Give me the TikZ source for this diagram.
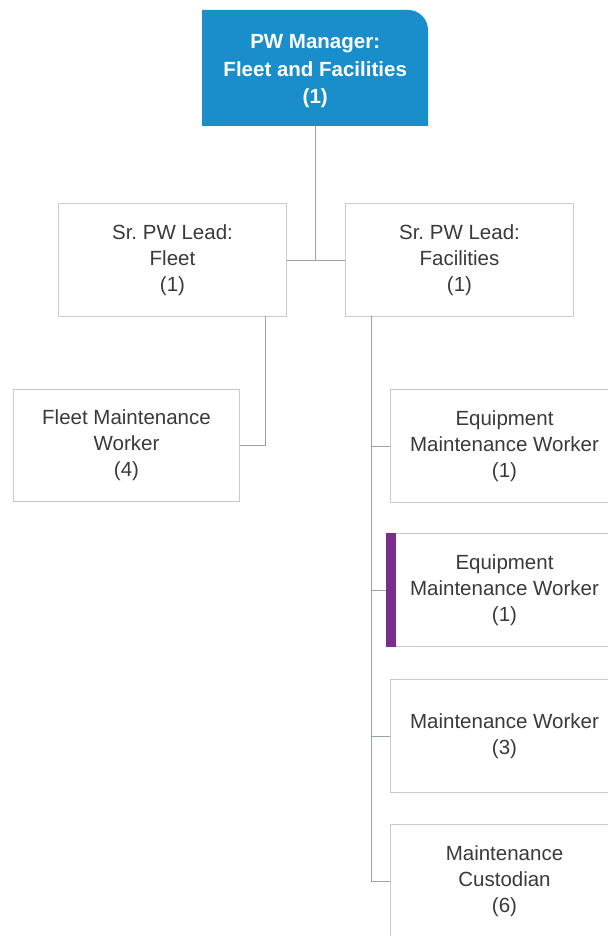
\documentclass[tikz,border=0pt]{standalone}
\usepackage{fontspec}
\setmainfont{Liberation Sans}
\definecolor{mgrblue}{HTML}{1A8ECB}
\definecolor{boxline}{HTML}{C5CBD0}
\definecolor{connline}{HTML}{9AA3AB}
\definecolor{txt}{HTML}{3A3A3A}
\definecolor{vacbar}{HTML}{7B2D8E}
\begin{document}
\frenchspacing
\begin{tikzpicture}[x=1pt,y=-1pt,
  box/.style={draw=boxline, line width=1pt, fill=white, minimum width=228pt,
    minimum height=113pt, anchor=north west, align=center, text=txt,
    font=\fontsize{20.5}{26}\selectfont, inner sep=0pt},
  mgrbox/.style={minimum width=226pt, minimum height=110pt, anchor=north west,
    align=center, text=white, font=\fontsize{20.5}{27.5}\selectfont\bfseries, inner sep=0pt},
  conn/.style={draw=connline, line width=1pt}]
\clip (0,0) rectangle (608,936);
\fill[white] (0,0) rectangle (608,936);
% manager box shape
\fill[mgrblue] (202,126) -- (202,10) -- (408,10) arc[start angle=-90, end angle=0, radius=20] -- (428,126) -- cycle;
\node[mgrbox] (mgr) at (202,16) {PW Manager:\\Fleet and Facilities\\(1)};
% connector taps
\coordinate (fltap) at (265,316);
\coordinate (fctap) at (371,316);
\node[box] (fleetlead) at (58,203) {Sr. PW Lead:\\Fleet\\(1)};
\node[box] (faclead) at (345,203) {Sr. PW Lead:\\Facilities\\(1)};
\node[box, minimum width=226pt, minimum height=112pt] (fmw) at (13,389) {Fleet Maintenance\\Worker\\(4)};
\node[box] (emwa) at (390,389) {Equipment\\Maintenance Worker\\(1)};
\node[box] (emwb) at (390,533) {Equipment\\Maintenance Worker\\(1)};
\node[box] (mw) at (390,679) {Maintenance Worker\\(3)};
\node[box] (mc) at (390,824) {Maintenance\\Custodian\\(6)};
\draw[conn] (mgr.south) -- (mgr.south |- fleetlead.east);
\draw[conn] (fleetlead.east) -- (faclead.west);
\draw[conn] (fltap) |- (fmw.east);
\draw[conn] (fctap) |- (emwa.west);
\draw[conn] (fctap) |- (emwb.west);
\draw[conn] (fctap) |- (mw.west);
\draw[conn] (fctap) |- (mc.west);
\fill[vacbar] (emwb.north west) ++(-4,0) rectangle ([xshift=6pt]emwb.south west);
\end{tikzpicture}
\end{document}
